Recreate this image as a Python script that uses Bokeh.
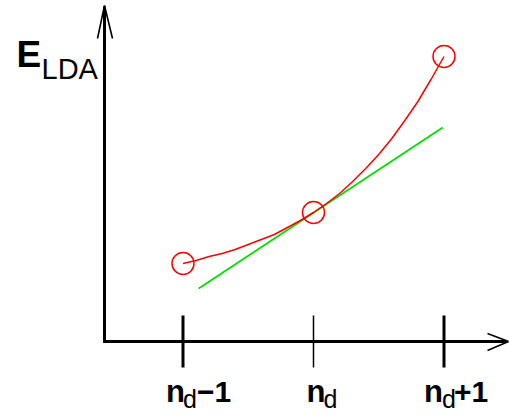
from bokeh.plotting import figure
from bokeh.models import Range1d
from bokeh.core.properties import value
from bokeh.embed import file_html
from bokeh.resources import INLINE

# ---------------- data ----------------
n_offsets = [-1, 0, 1]                 # n_d-1, n_d, n_d+1
E_points = [0.78, 1.29, 2.85]          # E_LDA at the three occupations

curve_x = [-1.0, -0.9, -0.8, -0.7, -0.6, -0.5, -0.4, -0.3, -0.2, -0.1, 0.0,
           0.1, 0.2, 0.3, 0.4, 0.5, 0.6, 0.7, 0.8, 0.9, 1.0]
curve_E = [0.78, 0.81, 0.85, 0.88, 0.92, 0.97, 1.02, 1.07, 1.14, 1.21, 1.29,
           1.38, 1.48, 1.60, 1.73, 1.87, 2.03, 2.21, 2.40, 2.62, 2.85]

tangent_x = [-0.88, 0.99]
tangent_E = [0.53, 2.14]

tick_main = ["n", "n", "n"]
tick_sub = ["d", "d", "d"]
tick_suffix = ["\u22121", "", "+1"]
y_label_main = "E"
y_label_sub = "LDA"

# ---------------- layout helpers (pixel -> data) ----------------
W, H = 509, 415
X0_PX, SX = 313.0, 130.5   # pixel of n_d, pixels per unit of n
Y0_PX, SY = 341.0, 100.0   # pixel of E = 0, pixels per unit of E


def xd(px):
    return (px - X0_PX) / SX


def yd(py):
    return (Y0_PX - py) / SY


def base(py, size):
    # compensate the renderer's baseline offset
    return yd(py - 0.38 * size)


FONT = value("Liberation Sans")

p = figure(width=W, height=H, output_backend="svg", toolbar_location=None,
           x_range=Range1d(xd(0), xd(W)), y_range=Range1d(yd(H), yd(0)),
           x_axis_location=None, y_axis_location=None, min_border=0)
p.outline_line_color = None
p.grid.visible = False
p.background_fill_color = "white"
p.border_fill_color = "white"

# ---------------- axes drawn as arrows ----------------
ax_x = xd(104)
p.line([ax_x, ax_x, xd(506)], [yd(6), 0.0, 0.0], line_color="black",
       line_width=3, line_join="miter")
# arrow heads
p.line([xd(97), ax_x, xd(112)], [yd(38), yd(5), yd(38)], line_color="black",
       line_width=1.6)
p.line([xd(487), xd(508), xd(487)], [yd(333), yd(341), yd(350)],
       line_color="black", line_width=1.6)

# ticks
tick_w = [3, 1.5, 3]
for n, w in zip(n_offsets, tick_w):
    p.segment(x0=[n], y0=[yd(315)], x1=[n], y1=[yd(367)], line_color="black",
              line_width=w)

# ---------------- data marks ----------------
p.line(tangent_x, tangent_E, line_color="#00e000", line_width=1.8)
p.line(curve_x, curve_E, line_color="#ff0000", line_width=1.5)
p.scatter(n_offsets, E_points, marker="circle", size=22, fill_color=None,
          line_color="#ff0000", line_width=1.5)

# ---------------- tick labels ----------------
main_off = [-17, -7, -20]
sub_off = [0, 10, -2]
suf_off = [14, 0, 10]
p.text(x=[n + o / SX for n, o in zip(n_offsets, main_off)],
       y=[base(403, 31)] * 3,
       text=tick_main, text_font=FONT, text_font_style="bold",
       text_font_size="31px", text_align="left", text_baseline="alphabetic",
       text_color="black")
p.text(x=[n + o / SX for n, o in zip(n_offsets, sub_off)],
       y=[base(408, 25)] * 3,
       text=tick_sub, text_font=FONT, text_font_style="normal",
       text_font_size="25px", text_align="left", text_baseline="alphabetic",
       text_color="black")
p.text(x=[n + o / SX for n, o in zip(n_offsets, suf_off)],
       y=[base(403, 30)] * 3,
       text=tick_suffix, text_font=FONT, text_font_style="bold",
       text_font_size="30px", text_align="left", text_baseline="alphabetic",
       text_color="black")

# ---------------- y label ----------------
p.text(x=[xd(16)], y=[base(68, 37)], text=[y_label_main], text_font=FONT,
       text_font_style="bold", text_font_size="37px", text_align="left",
       text_baseline="alphabetic", text_color="black")
p.text(x=[xd(41)], y=[base(80, 29)], text=[y_label_sub], text_font=FONT,
       text_font_style="normal", text_font_size="29px", text_align="left",
       text_baseline="alphabetic", text_color="black")

open("out.html", "w").write(file_html(p, INLINE))
